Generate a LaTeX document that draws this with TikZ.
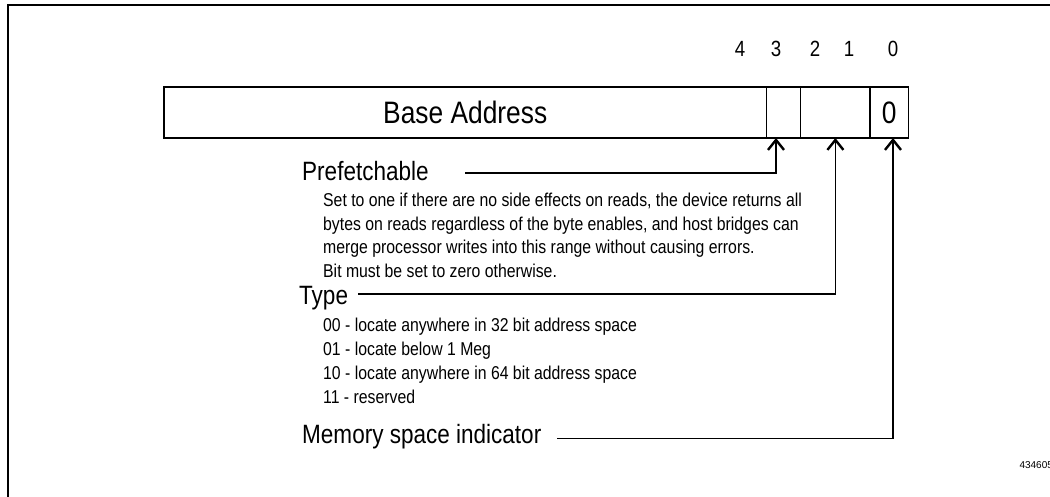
\documentclass[tikz,border=0pt]{standalone}
\usepackage{fontspec}
\setmainfont{Liberation Sans}
\newfontfamily\narrowsans{Liberation Sans}[FakeStretch=0.85]
\usetikzlibrary{arrows.meta,calc}

\begin{document}
\begin{tikzpicture}[
  x=1pt, y=-1pt,
  field/.style={draw, line width=1.4pt, minimum height=51pt, inner sep=0pt, outer sep=0pt, anchor=north west, font=\narrowsans\fontsize{31}{33}\selectfont},
  bitnum/.style={font=\narrowsans\fontsize{22}{24}\selectfont},
  title/.style={anchor=base west, inner sep=0pt, font=\narrowsans\fontsize{26.5}{28}\selectfont},
  desc/.style={anchor=base west, inner sep=0pt, font=\narrowsans\fontsize{18.6}{20}\selectfont},
  pointer/.style={line width=1.4pt, -{Straight Barb[length=10pt,width=16pt,line width=2.4pt]}}
]
\useasboundingbox (0,0) rectangle (1050,497);
% outer frame
\draw[line width=2pt] (7.5,497) -- (7.5,5) -- (1050,5);

% register fields
\node[field, minimum width=602.5pt] (base) at (164,87) {Base Address};
\node[field, minimum width=34pt] (f3) at (base.north east) {};
\node[field, minimum width=69.5pt] (f21) at (f3.north east) {};
\node[field, minimum width=38.5pt] (f0) at (f21.north east) {0};

% bit numbers
\foreach \b/\x in {4/740,3/776,2/815,1/849,0/893}
  \node[bitnum] (n\b) at (\x,49) {\b};

% labels
\node[title] (pref) at (302,181) {Prefetchable};
\foreach \t [count=\i] in {{Set to one if there are no side effects on reads, the device returns all},
  {bytes on reads regardless of the byte enables, and host bridges can},
  {merge processor writes into this range without causing errors.},
  {Bit must be set to zero otherwise.}}
  \node[desc] (pref\i) at (323,{207+23.5*(\i-1)}) {\t};

\node[title] (type) at (299,305) {Type};
\foreach \t [count=\i] in {{00 - locate anywhere in 32 bit address space},
  {01 - locate below 1 Meg},
  {10 - locate anywhere in 64 bit address space},
  {11 - reserved}}
  \node[desc] (type\i) at (323,{331+24*(\i-1)}) {\t};

\node[title] (mem) at (302,443) {Memory space indicator};

\node[anchor=west, font=\fontsize{10}{12}\selectfont] (fig) at (1016,465) {434605};

% pointers
\coordinate (prefstart) at (465,173);
\coordinate (typestart) at (358,294);
\coordinate (memstart) at (557,438.7);
\coordinate (typebit) at ($(n2)!0.6!(n1)$);
\draw[pointer] (prefstart) -| (n3 |- base.south);
\draw[pointer] (typestart) -| (typebit |- base.south);
\draw[pointer] (memstart) -| (n0 |- base.south);
\end{tikzpicture}
\end{document}
